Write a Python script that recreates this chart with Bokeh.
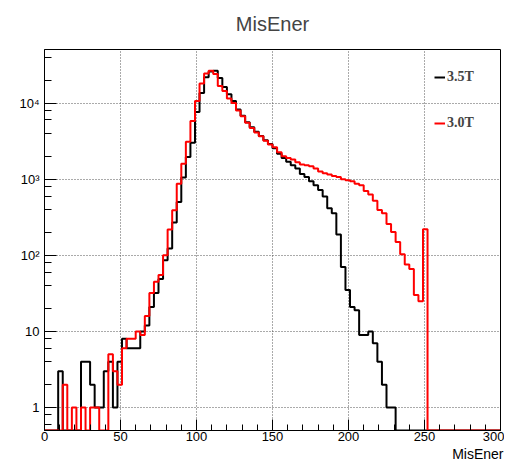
import numpy as np
from bokeh.plotting import figure
from bokeh.models import (Range1d, SingleIntervalTicker, LogTicker, Legend,
                          LegendItem, Title)
from bokeh.embed import file_html
from bokeh.resources import INLINE

# ---- data (bins of width 3 from 0 to 300) ----
bin_width = 3
x_min, x_max = 0, 300

black_35T = [
    0, 0, 0, 3, 0, 0, 0, 0, 4, 4,
    2, 1, 1, 3, 4, 1, 4, 8, 6, 6,
    6, 10, 12, 21, 32, 49, 86, 123, 270, 500,
    1050, 1950, 3000, 7600, 13500, 21800, 26000, 26500, 21300, 16200,
    13000, 10600, 8200, 6800, 5600, 4800, 4200, 3700, 3250, 2900,
    2550, 2150, 1900, 1700, 1520, 1380, 1170, 1070, 940, 830,
    720, 590, 415, 357, 187, 70, 35, 21, 19, 9,
    9, 10, 7, 4, 2, 1, 1, 0, 0, 0,
    0, 0, 0, 0, 0, 0, 0, 0, 0, 0,
    0, 0, 0, 0, 0, 0, 0, 0, 0, 0,
]
red_30T = [
    0, 0, 0, 0, 2, 0, 1, 0, 1, 0,
    1, 1, 0, 0, 5, 3, 2, 6, 8, 8,
    10, 9, 16, 32, 45, 55, 100, 218, 390, 870,
    1600, 3100, 5800, 10600, 18000, 24500, 26500, 24000, 16800, 14400,
    11500, 10000, 8000, 6700, 5500, 4700, 4100, 3650, 3200, 2850,
    2630, 2260, 2000, 1900, 1820, 1670, 1560, 1520, 1480, 1380,
    1260, 1200, 1150, 1100, 1070, 1000, 970, 940, 870, 830,
    700, 630, 520, 395, 357, 257, 203, 150, 103, 76,
    66, 30, 25, 220, 0, 0, 0, 0, 0, 0,
    0, 0, 0, 0, 0, 0, 0, 0, 0, 0,
]
labels = ["3.5T", "3.0T"]
y_tick_labels = {1: "1", 10: "10", 100: "10\u00b2", 1000: "10\u00b3", 10000: "10\u2074"}

y_lo, y_hi = 0.5, 50500

edges = np.arange(x_min, x_max + bin_width, bin_width)


def step_y(vals):
    v = np.asarray(vals, dtype=float)
    v = np.where(v > 0, v, y_lo)
    return np.append(v, v[-1])


p = figure(width=504, height=461, x_range=Range1d(x_min, x_max),
           y_range=Range1d(y_lo, y_hi), y_axis_type="log",
           output_backend="svg", toolbar_location=None,
           min_border_left=44, min_border_right=4, min_border_top=47,
           min_border_bottom=30)

p.title.text = "MisEner"
p.title.align = "center"
p.title.text_font = "Liberation Sans"
p.title.text_font_style = "normal"
p.title.text_font_size = "20px"
p.title.vertical_align = "top"
p.title.standoff = 25

p.outline_line_color = "black"
p.outline_line_width = 1
p.outline_line_alpha = 1
p.background_fill_color = "white"
p.border_fill_color = "white"

# x axis
p.xaxis.ticker = SingleIntervalTicker(interval=50, num_minor_ticks=5)
p.xgrid.ticker = SingleIntervalTicker(interval=50)
p.xaxis.major_tick_in = 11
p.xaxis.major_tick_out = 0
p.xaxis.minor_tick_in = 6
p.xaxis.minor_tick_out = 0
p.xaxis.major_label_standoff = 1

# y axis
p.yaxis.ticker = LogTicker(desired_num_ticks=6)
p.yaxis.major_tick_in = 12
p.yaxis.major_tick_out = 0
p.yaxis.minor_tick_in = 7
p.yaxis.minor_tick_out = 0
p.yaxis.major_label_standoff = 5
p.yaxis.major_label_overrides = y_tick_labels

for ax in (p.xaxis, p.yaxis):
    ax.axis_line_color = "black"
    ax.major_tick_line_color = "black"
    ax.minor_tick_line_color = "black"
    ax.major_label_text_font = "Liberation Sans"
    ax.major_label_text_font_size = "13px"
    ax.major_label_text_color = "black"

for g in (p.xgrid, p.ygrid):
    g.grid_line_color = "#555555"
    g.grid_line_dash = "1 2"
    g.grid_line_width = 1

rb = p.step(edges, step_y(black_35T), mode="after", line_color="black", line_width=2)
rr = p.step(edges, step_y(red_30T), mode="after", line_color="#ff0000", line_width=2)

legend = Legend(items=[LegendItem(label=labels[0], renderers=[rb]),
                       LegendItem(label=labels[1], renderers=[rr])],
                location=(390, 297), orientation="vertical",
                border_line_alpha=0, background_fill_alpha=0,
                padding=0, margin=0, spacing=26,
                glyph_width=11, glyph_height=20, label_height=20,
                label_standoff=2, label_text_font="Liberation Serif",
                label_text_font_style="bold", label_text_font_size="14px")
p.add_layout(legend, "center")

p.add_layout(Title(text="MisEner", align="right", offset=-3, standoff=0,
                   text_font="Liberation Sans", text_font_style="normal",
                   text_font_size="14px", text_color="black"), "below")

open("out.html", "w").write(file_html(p, INLINE))
